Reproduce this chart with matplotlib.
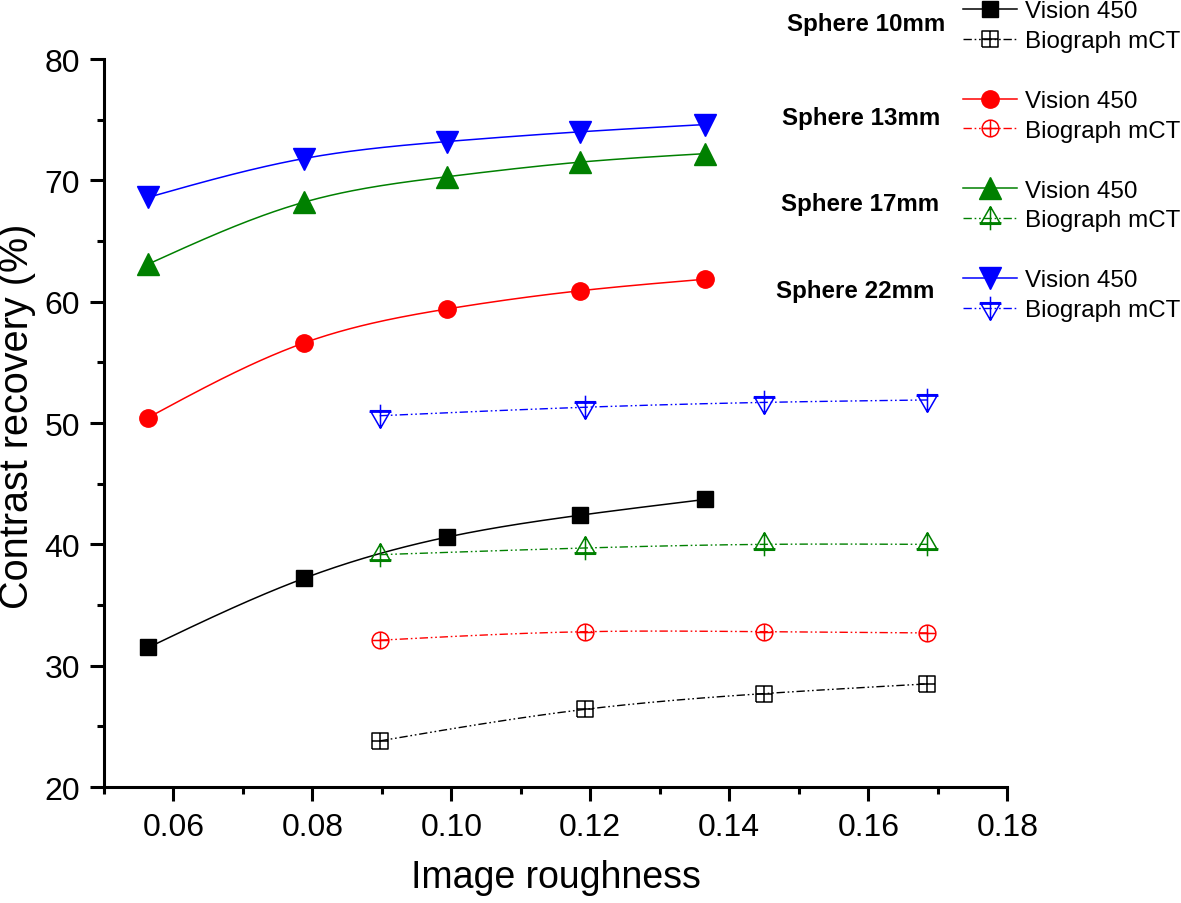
import numpy as np
import matplotlib
matplotlib.use("Agg")
import matplotlib.pyplot as plt
from matplotlib.lines import Line2D
from matplotlib.path import Path
from matplotlib.ticker import MultipleLocator

plt.rcParams['font.family'] = ['Liberation Sans', 'DejaVu Sans']

# roughness values of the two scanners
vision_x = [0.0564, 0.0788, 0.0994, 0.1185, 0.1365]
biograph_x = [0.0897, 0.1192, 0.1450, 0.1685]

# contrast recovery (%) per sphere size
vision_10 = [31.5, 37.2, 40.6, 42.4, 43.7]
biograph_10 = [23.8, 26.4, 27.7, 28.5]
vision_13 = [50.45, 56.6, 59.4, 60.9, 61.85]
biograph_13 = [32.1, 32.8, 32.8, 32.7]
vision_17 = [63.1, 68.2, 70.3, 71.5, 72.2]
biograph_17 = [39.15, 39.7, 40.0, 40.0]
vision_22 = [68.6, 71.8, 73.2, 74.0, 74.6]
biograph_22 = [50.6, 51.3, 51.7, 51.9]

spheres = ['Sphere 10mm', 'Sphere 13mm', 'Sphere 17mm', 'Sphere 22mm']
scanners = ['Vision 450', 'Biograph mCT']
colors = ['black', 'red', 'green', 'blue']


def smooth(x, y, n=200):
    """natural cubic spline through the points (only for drawing the line)"""
    x = np.asarray(x, float)
    y = np.asarray(y, float)
    k = len(x)
    h = np.diff(x)
    A = np.zeros((k, k))
    r = np.zeros(k)
    A[0, 0] = A[-1, -1] = 1
    for i in range(1, k - 1):
        A[i, i - 1] = h[i - 1]
        A[i, i] = 2 * (h[i - 1] + h[i])
        A[i, i + 1] = h[i]
        r[i] = 6 * ((y[i + 1] - y[i]) / h[i] - (y[i] - y[i - 1]) / h[i - 1])
    M = np.linalg.solve(A, r)
    xs = np.linspace(x[0], x[-1], n)
    i = np.clip(np.searchsorted(x, xs) - 1, 0, k - 2)
    hi = h[i]
    a = x[i + 1] - xs
    b = xs - x[i]
    ys = (M[i] * a ** 3 / (6 * hi) + M[i + 1] * b ** 3 / (6 * hi)
          + (y[i] / hi - M[i] * hi / 6) * a + (y[i + 1] / hi - M[i + 1] * hi / 6) * b)
    return xs, ys


def crossed(kind):
    """open markers with a cross inside, like the Origin ones"""
    if kind == 'square':
        return Path.make_compound_path(
            Path([(-1, -1), (1, -1), (1, 1), (-1, 1), (-1, -1)]),
            Path([(-1, 0), (1, 0)]), Path([(0, -1), (0, 1)]))
    if kind == 'circle':
        return Path.make_compound_path(
            Path.unit_circle(), Path([(-1, 0), (1, 0)]), Path([(0, -1), (0, 1)]))
    s = 1 if kind == 'up' else -1
    return Path.make_compound_path(
        Path([(0, s * 1.0), (-0.86, -s * 0.49), (0.86, -s * 0.49), (0, s * 1.0)]),
        Path([(-0.93, -s * 0.37), (0.93, -s * 0.37)]),
        Path([(0, -1), (0, 1)]))


vision_data = [vision_10, vision_13, vision_17, vision_22]
biograph_data = [biograph_10, biograph_13, biograph_17, biograph_22]
vision_markers = [('s', 11), ('o', 12.5), ('^', 15.5), ('v', 15.5)]
biograph_markers = [(crossed('square'), 11), (crossed('circle'), 12),
                    (crossed('up'), 17), (crossed('down'), 17)]
dashdot = (0, (6, 2, 1.2, 2, 1.2, 2))

fig = plt.figure(figsize=(11.81, 9.04), dpi=100)
ax = fig.add_axes([0.0879, 0.1283, 0.8529 - 0.0879, 0.9336 - 0.1283])

handles, labels = [], []
for j in range(4):
    c = colors[j]
    xs, ys = smooth(vision_x, vision_data[j])
    ax.plot(xs, ys, color=c, lw=1.1, zorder=2)
    m, ms = vision_markers[j]
    ax.plot(vision_x, vision_data[j], ls='none', marker=m, ms=ms, color=c, zorder=3)

    xs, ys = smooth(biograph_x, biograph_data[j])
    ax.plot(xs, ys, color=c, lw=1.0, ls=dashdot, zorder=2)
    bm, bms = biograph_markers[j]
    ax.plot(biograph_x, biograph_data[j], ls='none', marker=bm, ms=bms,
            mfc='none', mec=c, mew=1.1, zorder=3)

    if j > 0:
        handles.append(Line2D([], [], ls='none'))
        labels.append(' ')
    handles.append(Line2D([], [], color=c, lw=1.1, marker=m, ms=ms))
    labels.append(scanners[0])
    handles.append(Line2D([], [], color=c, lw=1.0, ls=dashdot, marker=bm, ms=bms,
                          mfc='none', mec=c, mew=1.1))
    labels.append(scanners[1])

ax.set_xlim(0.05, 0.18)
ax.set_ylim(20, 80)
ax.xaxis.set_major_locator(MultipleLocator(0.02))
ax.xaxis.set_minor_locator(MultipleLocator(0.01))
ax.yaxis.set_major_locator(MultipleLocator(10))
ax.yaxis.set_minor_locator(MultipleLocator(5))
ax.xaxis.set_major_formatter(plt.FuncFormatter(lambda v, p: f'{v:.2f}'))

for side in ['top', 'right']:
    ax.spines[side].set_visible(False)
for side in ['left', 'bottom']:
    ax.spines[side].set_linewidth(2.2)
ax.tick_params(which='major', direction='out', length=10, width=2.2,
               labelsize=23, pad=7)
ax.tick_params(which='minor', direction='out', length=5, width=2.2)
ax.tick_params(axis='x', which='major', pad=8)

ax.set_xlabel('Image roughness', fontsize=27, labelpad=12)
ax.set_ylabel('Contrast recovery (%)', fontsize=28.5, labelpad=5)
ax.yaxis.set_label_coords(-0.075, 0.51)

leg = fig.legend(handles, labels, loc='upper left',
                 bbox_to_anchor=(963 / 1181, 1.0 - 1.5 / 904), frameon=False,
                 fontsize=17.4, handlelength=2.24, handletextpad=0.33,
                 labelspacing=0.325, borderpad=0, borderaxespad=0)

label_pos = [(866, 24), (861, 118), (860, 204), (855, 292)]
for name, (px, py) in zip(spheres, label_pos):
    fig.text(px / 1181, 1 - py / 904, name, ha='center', va='center',
             fontsize=17.4, fontweight='bold')

fig.savefig('out.png', dpi=100)
